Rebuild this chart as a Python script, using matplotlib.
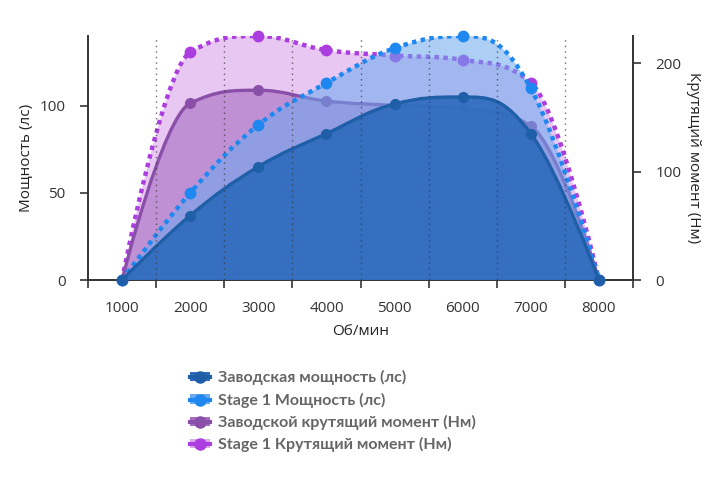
import matplotlib.pyplot as plt
import numpy as np
from matplotlib.path import Path
from matplotlib.patches import PathPatch, Patch
from matplotlib.lines import Line2D

rpm = ['1000', '2000', '3000', '4000', '5000', '6000', '7000', '8000']
stock_power = [0, 37, 65, 84, 101, 105, 84, 0]
stage1_power = [0, 50, 89, 113, 133, 140, 110, 0]
stock_torque = [0, 163, 175, 165, 161, 158, 142, 0]
stage1_torque = [0, 210, 225, 212, 207, 203, 182, 0]

labels = ['Заводская мощность (лс)', 'Stage 1 Мощность (лс)',
          'Заводской крутящий момент (Нм)', 'Stage 1 Крутящий момент (Нм)']


def spline_verts(xs, ys, smoothing=1.5):
    # highcharts-like spline control points
    n = len(xs)
    left = [(xs[0], ys[0])] * n
    right = [(xs[0], ys[0])] * n
    for i in range(n):
        px, py = xs[i], ys[i]
        if 0 < i < n - 1:
            lx, ly = xs[i - 1], ys[i - 1]
            nx, ny = xs[i + 1], ys[i + 1]
            d = smoothing + 1
            lcx = (smoothing * px + lx) / d
            lcy = (smoothing * py + ly) / d
            rcx = (smoothing * px + nx) / d
            rcy = (smoothing * py + ny) / d
            corr = (rcy - lcy) * (rcx - px) / (rcx - lcx) + py - rcy
            lcy += corr
            rcy += corr
            if lcy > ly and lcy > py:
                lcy = max(ly, py); rcy = 2 * py - lcy
            elif lcy < ly and lcy < py:
                lcy = min(ly, py); rcy = 2 * py - lcy
            if rcy > ny and rcy > py:
                rcy = max(ny, py); lcy = 2 * py - rcy
            elif rcy < ny and rcy < py:
                rcy = min(ny, py); lcy = 2 * py - rcy
            left[i] = (lcx, lcy)
            right[i] = (rcx, rcy)
        else:
            left[i] = (px, py)
            right[i] = (px, py)
    verts = [(xs[0], ys[0])]
    codes = [Path.MOVETO]
    for i in range(1, n):
        verts += [right[i - 1], left[i], (xs[i], ys[i])]
        codes += [Path.CURVE4] * 3
    return verts, codes


def draw_series(ax, ys, line_c, fill_c, fill_a, ls, lw, ms, z):
    xs = list(range(len(ys)))
    verts, codes = spline_verts(xs, ys)
    area_v = verts + [(xs[-1], 0), (xs[0], 0), verts[0]]
    area_c = codes + [Path.LINETO, Path.LINETO, Path.CLOSEPOLY]
    ax.add_patch(PathPatch(Path(area_v, area_c), facecolor=fill_c, alpha=fill_a,
                           edgecolor='none', zorder=z))
    ax.add_patch(PathPatch(Path(verts, codes), facecolor='none', edgecolor=line_c,
                           lw=lw, linestyle=ls, zorder=z + 0.1, capstyle='butt'))
    ax.plot(xs, ys, 'o', color=line_c, ms=ms, zorder=z + 0.2, clip_on=False)


plt.rcParams['font.family'] = ['Open Sans', 'DejaVu Sans']
fig = plt.figure(figsize=(7.2, 4.79), dpi=100)
ax = fig.add_axes([88 / 720, 1 - 280 / 479, 545 / 720, 244 / 479])
ax2 = ax.twinx()

# torque on the lower axes (right scale), power above it (left scale)
draw_series(ax, stage1_torque, '#ac3ee0', '#dcaaec', 0.65, (0, (1, 1)), 3.2, 7.5, 2)
draw_series(ax, stock_torque, '#8a4fa8', '#a66cc0', 0.6, '-', 2.4, 7, 3)
draw_series(ax2, stage1_power, '#1e88f0', '#6aa8f0', 0.55, (0, (1, 1)), 3.2, 7.5, 2)
draw_series(ax2, stock_power, '#1f5fa8', '#2f6bbd', 0.92, '-', 2.4, 7, 3)

ax.set_xlim(-0.5, 7.5)
ax.set_ylim(0, 225)
ax2.set_ylim(0, 140)

ax.yaxis.tick_right()
ax.yaxis.set_label_position('right')
ax2.yaxis.tick_left()
ax2.yaxis.set_label_position('left')

ax.set_yticks([0, 100, 200])
ax2.set_yticks([0, 50, 100])
ax.set_xticks(range(len(rpm)))
ax.set_xticklabels(rpm)
ax.set_xticks(np.arange(-0.5, 8, 1), minor=True)
ax.tick_params(axis='x', which='major', length=0, pad=15, labelsize=11, colors='#333333')
ax.tick_params(axis='x', which='minor', length=6, width=1.2, color='#333333')
ax.tick_params(axis='y', length=6, width=1.2, pad=10, labelsize=11, colors='#333333')
ax2.tick_params(axis='y', length=6, width=1.2, pad=10, labelsize=11, colors='#333333')

for x in np.arange(0.5, 7, 1):
    ax2.axvline(x, color='#333333', lw=1, linestyle=(0, (1, 3)), alpha=0.7, zorder=5)

for s in ['top', 'left']:
    ax.spines[s].set_visible(False)
for s in ['top', 'right', 'bottom']:
    ax2.spines[s].set_visible(False)
for sp in [ax.spines['right'], ax.spines['bottom'], ax2.spines['left']]:
    sp.set_color('#333333')
    sp.set_linewidth(1.4)
ax.spines['bottom'].set_zorder(10)

ax.set_xlabel('Об/мин', fontsize=11, color='#222222', labelpad=6)
ax2.set_ylabel('Мощность (лс)', fontsize=11, color='#222222', labelpad=4)
ax.set_ylabel('Крутящий момент (Нм)', fontsize=11, color='#222222', rotation=270, labelpad=14)

handles = []
for lc, fc in [('#1f5fa8', '#2f6bbd'), ('#1e88f0', '#6aa8f0'),
               ('#8a4fa8', '#a66cc0'), ('#ac3ee0', '#dcaaec')]:
    handles.append((Patch(facecolor=fc, edgecolor='none'),
                    Line2D([], [], color=lc, lw=3, marker='o', ms=8)))
leg = fig.legend(handles, labels, loc='upper left', bbox_to_anchor=(176 / 720, 1 - 356 / 479),
                 frameon=False, handlelength=1.2, handleheight=0.5, handletextpad=0.5,
                 labelspacing=0.45,
                 prop={'family': ['Lato', 'DejaVu Sans'], 'weight': 'bold', 'size': 11.5})
for t in leg.get_texts():
    t.set_color('#666666')

fig.savefig('out.png', dpi=100, facecolor='white')
